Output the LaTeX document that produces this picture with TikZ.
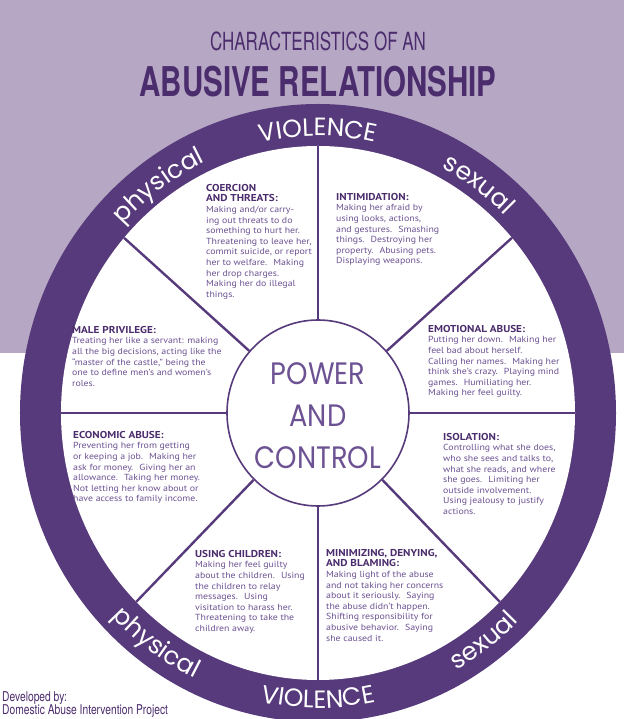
\documentclass[tikz,border=0pt]{standalone}
\usepackage{fontspec}
\usepackage{tikz}
\usetikzlibrary{shapes.geometric,decorations.text}

\setmainfont[FakeStretch=1.12]{PT Sans}
\newfontfamily\headfont[FakeStretch=0.68]{TeX Gyre Heros}
\newfontfamily\boldheadfont[FakeStretch=0.72]{TeX Gyre Heros}
\newfontfamily\creditfont[FakeStretch=0.76]{TeX Gyre Heros}
\newfontfamily\wheelfont{Poppins}
\newfontfamily\slogfont[FakeStretch=0.88]{Poppins}

\definecolor{lilac}{HTML}{B6A8C5}
\definecolor{plum}{HTML}{573A7B}
\definecolor{deepplum}{HTML}{4B2C6C}
\definecolor{softplum}{HTML}{6C5293}

\newcommand\tacticname[1]{{\color{deepplum}\bfseries\fontsize{10}{10.6}\selectfont #1}}

\begin{document}
\begin{tikzpicture}[x=1pt, y=1pt,
    spoke/.style={draw=plum, line width=2.4pt},
    tactic/.style={anchor=north west, inner sep=0pt, align=left, text=softplum,
        font=\fontsize{8.8}{10.6}\selectfont},
    ringtext/.style={decorate, decoration={text along path, text align=center,
        text={|\wheelfont\fontsize{25}{25}\selectfont\color{white}|#1}}}]
    \useasboundingbox (-318,-306) rectangle (306,413);
    \fill[white] (-318,-306) rectangle (306,413);
    \fill[lilac] (-318,60) rectangle (306,413);

    \node[text=deepplum, font=\headfont\fontsize{25}{25}\selectfont] (kicker) at (0,372) {CHARACTERISTICS OF AN};
    \node[text=deepplum, font=\boldheadfont\bfseries\fontsize{41}{41}\selectfont] (headline) at (0,331) {ABUSIVE RELATIONSHIP};

    \fill[plum] (0,0) ellipse [x radius=298, y radius=309];
    \fill[white] (0,0) ellipse [x radius=257, y radius=267];

    \path[ringtext=VIOLENCE] (114:266 and 277) arc[start angle=114, end angle=66, x radius=266, y radius=277];
    \path[ringtext=physical] (150:266 and 277) arc[start angle=150, end angle=102, x radius=266, y radius=277];
    \path[ringtext=sexual] (78:266 and 277) arc[start angle=78, end angle=30, x radius=266, y radius=277];
    \path[ringtext=physical] (210:284 and 295) arc[start angle=210, end angle=258, x radius=284, y radius=295];
    \path[ringtext=VIOLENCE] (246:284 and 295) arc[start angle=246, end angle=294, x radius=284, y radius=295];
    \path[ringtext=sexual] (283:284 and 295) arc[start angle=283, end angle=331, x radius=284, y radius=295];

    \node[ellipse, draw=plum, line width=1.6pt, fill=white, inner sep=0pt,
        minimum width=182pt, minimum height=186pt] (core) at (0,0) {};
    \node[align=center, text=softplum, font=\slogfont\fontsize{31}{42}\selectfont] (slogan) at (0,-3) {POWER\\AND\\CONTROL};

    \foreach \a in {0,41,90,139,180,225,270,315}
        \coordinate (rim-\a) at (\a:257 and 267);
    \foreach \a in {0,41,90,139,180,225,270,315}
        \path[spoke] (core) edge (rim-\a);

    \node[tactic] (coercion) at (-112,229) {\tacticname{COERCION}\\\tacticname{AND THREATS:}\\
        Making and/or carry-\\ing out threats to do\\something to hurt her.\\
        Threatening to leave her,\\commit suicide, or report\\her to welfare.~ Making\\
        her drop charges.\\Making her do illegal\\things.};
    \node[tactic] (intimidation) at (18,220) {\tacticname{INTIMIDATION:}\\
        Making her afraid by\\using looks, actions,\\and gestures.~ Smashing\\
        things.~ Destroying her\\property.~ Abusing pets.\\Displaying weapons.};
    \node[tactic] (privilege) at (-246,87) {\tacticname{MALE PRIVILEGE:}\\
        Treating her like a servant: making\\all the big decisions, acting like the\\
        “master of the castle,” being the\\one to define men’s and women’s\\roles.};
    \node[tactic] (emotional) at (110,88) {\tacticname{EMOTIONAL ABUSE:}\\
        Putting her down.~ Making her\\feel bad about herself.\\Calling her names.~ Making her\\
        think she’s crazy.~ Playing mind\\games.~ Humiliating her.\\Making her feel guilty.};
    \node[tactic] (economic) at (-245,-18) {\tacticname{ECONOMIC ABUSE:}\\
        Preventing her from getting\\or keeping a job.~ Making her\\ask for money.~ Giving her an\\
        allowance.~ Taking her money.\\Not letting her know about or\\have access to family income.};
    \node[tactic] (isolation) at (125,-20) {\tacticname{ISOLATION:}\\
        Controlling what she does,\\who she sees and talks to,\\what she reads, and where\\
        she goes.~ Limiting her\\outside involvement.\\Using jealousy to justify\\actions.};
    \node[tactic] (children) at (-123,-137) {\tacticname{USING CHILDREN:}\\
        Making her feel guilty\\about the children.~ Using\\the children to relay\\
        messages.~ Using\\visitation to harass her.\\Threatening to take the\\children away.};
    \node[tactic] (minimizing) at (8,-136) {\tacticname{MINIMIZING, DENYING,}\\\tacticname{AND BLAMING:}\\
        Making light of the abuse\\and not taking her concerns\\about it seriously.~ Saying\\
        the abuse didn’t happen.\\Shifting responsibility for\\abusive behavior.~ Saying\\she caused it.};

    \node[anchor=south west, inner sep=0pt, align=left, text=deepplum,
        font=\creditfont\fontsize{13.5}{13.5}\selectfont] (credit) at (-316,-305) {Developed by:\\Domestic Abuse Intervention Project};
\end{tikzpicture}
\end{document}
